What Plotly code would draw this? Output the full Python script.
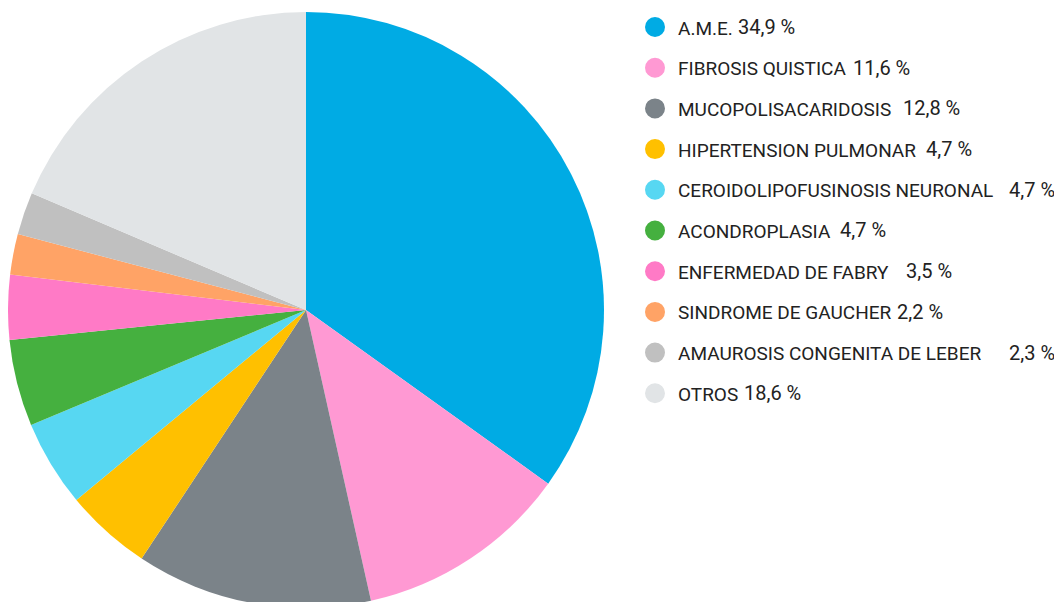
import plotly.graph_objects as go

labels = ["A.M.E.", "FIBROSIS QUISTICA", "MUCOPOLISACARIDOSIS", "HIPERTENSION PULMONAR",
          "CEROIDOLIPOFUSINOSIS NEURONAL", "ACONDROPLASIA", "ENFERMEDAD DE FABRY",
          "SINDROME DE GAUCHER", "AMAUROSIS CONGENITA DE LEBER", "OTROS"]
values = [34.9, 11.6, 12.8, 4.7, 4.7, 4.7, 3.5, 2.2, 2.3, 18.6]
colors = ["#00abe4", "#ff99d3", "#7b8389", "#ffc000", "#57d7f2",
          "#45b03f", "#ff7ac6", "#ffa366", "#c0c0c0", "#e1e4e6"]

# layout: x position (page px) where each percentage text starts
pct_x = [737, 852, 902, 925, 1008, 839, 905, 896, 1008, 743]

OFF = 8                      # browser body margin
W, H = 1062 - OFF, 604
MT, MB = 2, 2
PH = H - MT - MB

fig = go.Figure()
fig.add_trace(go.Pie(
    labels=labels, values=values, sort=False, direction="clockwise", rotation=0,
    marker=dict(colors=colors, line=dict(width=0)),
    textinfo="none", showlegend=False, hoverinfo="label+percent",
    domain=dict(x=[(306 - 298 - OFF) / W, (306 + 298 - OFF) / W], y=[0, 1]),
))


def px(x):
    return (x - OFF) / W


def py(y):
    return 1 - (y - OFF - MT) / PH


row0, step = 27, 40.7
cx, rad = 655, 10
for i, (lab, v, c) in enumerate(zip(labels, values, colors)):
    yc = row0 + i * step
    fig.add_shape(type="circle", xref="paper", yref="paper",
                  x0=px(cx - rad), x1=px(cx + rad),
                  y0=py(yc + rad), y1=py(yc - rad),
                  fillcolor=c, line=dict(width=0))
    fig.add_annotation(xref="paper", yref="paper", x=px(676), y=py(yc + 1),
                       xanchor="left", yanchor="middle", showarrow=False,
                       text=lab, font=dict(family="Roboto", size=19, color="#222222"))
    pct = f"{v:.1f}".replace(".", ",") + " %"
    fig.add_annotation(xref="paper", yref="paper", x=px(pct_x[i] - 1), y=py(yc),
                       xanchor="left", yanchor="middle", showarrow=False,
                       text=pct, font=dict(family="Roboto", size=20, color="#222222"))

fig.update_layout(
    width=W, height=H,
    margin=dict(l=0, r=0, t=MT, b=MB),
    paper_bgcolor="white", plot_bgcolor="white",
    font=dict(family="Roboto"),
)
fig.write_html("out.html")
